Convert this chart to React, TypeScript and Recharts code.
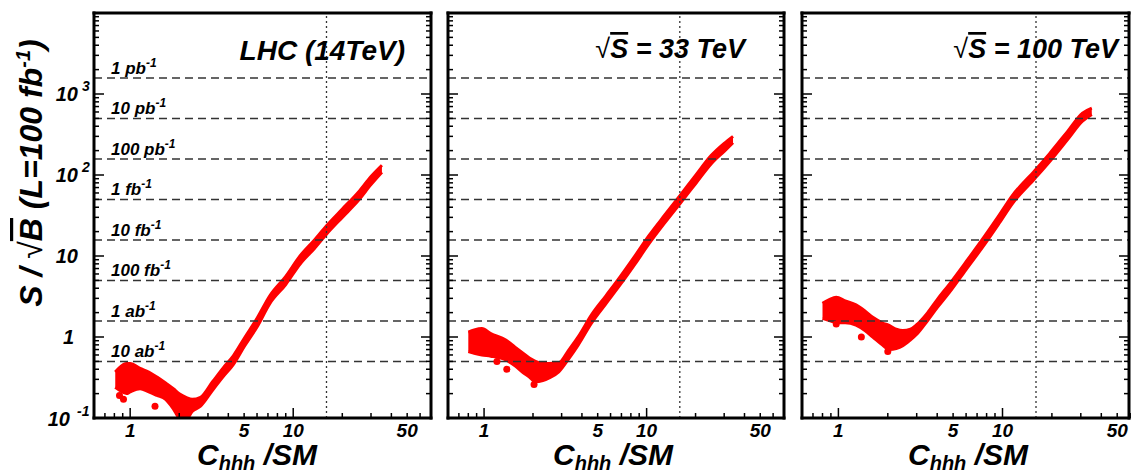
import { ComposedChart, Area, Scatter, XAxis, YAxis, ReferenceLine } from "recharts";

const FONT = "'Liberation Sans', Arial, Helvetica, sans-serif";
const RED = "#ff0000";

// LHC 14 TeV: band of the scan, C_hhh/SM vs S/sqrt(B) at 100 fb^-1
const lhcX = [0.81, 0.86, 0.95, 1.0, 1.15, 1.3, 1.46, 1.65, 1.84, 2.0, 2.2, 2.4, 2.7, 3.2, 3.7, 4.3, 5.0, 6.0, 7.2, 9.0, 11, 13.5, 16, 20, 25, 30, 35];
const lhcLo = [0.24, 0.22, 0.2, 0.21, 0.23, 0.21, 0.19, 0.17, 0.13, 0.1, 0.095, 0.12, 0.14, 0.22, 0.32, 0.46, 0.76, 1.33, 2.6, 4.45, 7.9, 12.4, 18.6, 30, 48, 76, 108];
const lhcHi = [0.37, 0.42, 0.47, 0.47, 0.41, 0.37, 0.32, 0.27, 0.23, 0.2, 0.18, 0.17, 0.18, 0.28, 0.41, 0.59, 0.96, 1.7, 3.25, 5.6, 10, 15.8, 23.6, 38, 61, 96, 132];
const lhcDotX = [0.86, 0.91, 1.42, 2.03];
const lhcDotY = [0.19, 0.17, 0.14, 0.09];

// 33 TeV
const s33X = [0.8, 0.87, 0.97, 1.1, 1.36, 1.55, 1.72, 1.9, 2.07, 2.3, 2.5, 2.88, 3.3, 3.8, 4.6, 5.6, 6.9, 8.5, 10.3, 13, 16.2, 20, 25, 30, 34];
const s33Lo = [0.66, 0.63, 0.6, 0.58, 0.52, 0.44, 0.37, 0.32, 0.28, 0.29, 0.31, 0.37, 0.53, 0.8, 1.5, 2.55, 4.45, 8.0, 14, 26, 45.5, 78, 138, 196, 250];
const s33Hi = [1.15, 1.22, 1.27, 1.1, 0.92, 0.75, 0.64, 0.55, 0.5, 0.47, 0.47, 0.48, 0.68, 1.01, 1.9, 3.2, 5.6, 10.1, 17.7, 32.5, 57, 99, 175, 246, 300];
const s33DotX = [0.93, 1.2, 1.38, 2.03];
const s33DotY = [0.66, 0.5, 0.4, 0.26];

// 100 TeV
const s100X = [0.8, 0.88, 0.97, 1.1, 1.28, 1.45, 1.62, 1.85, 2.05, 2.25, 2.47, 2.75, 3.0, 3.5, 4.0, 4.75, 6.0, 7.8, 9.5, 11.5, 15.7, 19.4, 25, 30.7, 35];
const s100Lo = [1.7, 1.6, 1.5, 1.5, 1.4, 1.2, 1.0, 0.8, 0.7, 0.72, 0.78, 0.92, 1.08, 1.6, 2.3, 3.55, 6.8, 14, 25, 44.5, 90, 147, 276, 462, 560];
const s100Hi = [2.6, 2.9, 3.1, 2.8, 2.5, 2.1, 1.75, 1.5, 1.38, 1.25, 1.2, 1.25, 1.42, 2.0, 2.9, 4.5, 8.5, 17.7, 31.5, 56, 113, 185, 348, 580, 670];
const s100DotX = [0.97, 1.38, 2.0];
const s100DotY = [1.45, 1.0, 0.66];

// 5 sigma discovery with the given luminosity
const lumiValues = [1581, 500, 158, 50, 15.8, 5, 1.58, 0.5];
const lumiLabels = ["1 pb", "10 pb", "100 pb", "1 fb", "10 fb", "100 fb", "1 ab", "10 ab"];
const cutX = 16;

const xTicks = [0.7, 0.8, 0.9, 1, 2, 3, 4, 5, 6, 7, 8, 9, 10, 20, 30, 40, 50, 60];
const xMajor = [1, 10];
const xLabels = [1, 5, 10, 50];

const yTicks = [
  0.1, 0.2, 0.3, 0.4, 0.5, 0.6, 0.7, 0.8, 0.9,
  1, 2, 3, 4, 5, 6, 7, 8, 9,
  10, 20, 30, 40, 50, 60, 70, 80, 90,
  100, 200, 300, 400, 500, 600, 700, 800, 900,
  1000, 2000, 3000, 4000, 5000, 6000, 7000, 8000, 9000, 10000,
];
const yMajor = [0.1, 1, 10, 100, 1000, 10000];
const yLabelBase = ["10", "1", "10", "10", "10"];
const yLabelExp = ["-1", "", "", "2", "3"];
const yLabelAt = [0.1, 1, 10, 100, 1000];

const txt = { fontFamily: FONT, fontWeight: 700, fontStyle: "italic" as const, fill: "#000" };
const frame = { stroke: "#000", strokeWidth: 3, strokeLinecap: "square" as const };

const BottomTick = (p: any) => {
  const v = p.payload.value;
  const len = xMajor.includes(v) ? 10 : 5;
  return (
    <g>
      <line x1={p.x} x2={p.x} y1={p.y} y2={p.y - len} stroke="#000" strokeWidth={1.5} />
      {xLabels.includes(v) && (
        <text x={p.x} y={p.y + 19} textAnchor="middle" fontSize={19} {...txt}>
          {v}
        </text>
      )}
    </g>
  );
};

const TopTick = (p: any) => {
  const len = xMajor.includes(p.payload.value) ? 10 : 5;
  return <line x1={p.x} x2={p.x} y1={p.y} y2={p.y + len} stroke="#000" strokeWidth={1.5} />;
};

const makeLeftTick = (withLabels: boolean) => (p: any) => {
  const v = p.payload.value;
  const len = yMajor.includes(v) ? 10 : 5;
  const i = yLabelAt.indexOf(v);
  const endX = v === 1 ? p.x - 20 : v === 0.1 ? p.x - 24 : p.x - 16;
  const base = v === 0.1 ? p.y + 8 : p.y + 7;
  return (
    <g>
      <line x1={p.x} x2={p.x + len} y1={p.y} y2={p.y} stroke="#000" strokeWidth={1.5} />
      {withLabels && i >= 0 && (
        <g>
          <text x={endX} y={base} textAnchor="end" fontSize={20} {...txt}>
            {yLabelBase[i]}
          </text>
          {yLabelExp[i] && (
            <text x={endX + (v === 0.1 ? 7 : 4)} y={base - 10} fontSize={14} {...txt}>
              {yLabelExp[i]}
            </text>
          )}
        </g>
      )}
    </g>
  );
};

const RightTick = (p: any) => {
  const len = yMajor.includes(p.payload.value) ? 10 : 5;
  return <line x1={p.x} x2={p.x - len} y1={p.y} y2={p.y} stroke="#000" strokeWidth={1.5} />;
};

const LumiLabel = (p: any) => {
  const vb = p.viewBox || {};
  return (
    <text x={vb.x + 17} y={vb.y - 4} fontSize={17} {...txt}>
      {p.text}
      <tspan dy={-7} fontSize={12}>-1</tspan>
    </text>
  );
};

const Dot = (p: any) => <circle cx={p.cx} cy={p.cy} r={3.5} fill={RED} />;

type PanelProps = {
  left: number;
  width: number;
  mLeft: number;
  mRight: number;
  xMax: number;
  xs: number[];
  lo: number[];
  hi: number[];
  dotX: number[];
  dotY: number[];
  first?: boolean;
};

// axes are 1px thick so recharts still draws them; margins are reduced by 1 to compensate
function Panel({ left, width, mLeft, mRight, xMax, xs, lo, hi, dotX, dotY, first }: PanelProps) {
  const rows = xs.map((x, i) => ({ x, band: [lo[i], hi[i]] }));
  const dots = dotX.map((x, i) => ({ x, y: dotY[i] }));
  return (
    <div style={{ position: "absolute", left, top: 0 }}>
      <ComposedChart width={width} height={471} data={rows} margin={{ top: 12, right: mRight - 1, bottom: 52, left: mLeft - 1 }}>
        <XAxis xAxisId="b" dataKey="x" type="number" scale="log" domain={[0.6, xMax]} allowDataOverflow
          ticks={xTicks} interval={0} tickSize={0} tickMargin={0} height={1} tickLine={false} axisLine={frame} tick={BottomTick} />
        <XAxis xAxisId="t" orientation="top" type="number" scale="log" domain={[0.6, xMax]} allowDataOverflow
          ticks={xTicks} interval={0} tickSize={0} tickMargin={0} height={1} tickLine={false} axisLine={frame} tick={TopTick} />
        <YAxis yAxisId="l" type="number" scale="log" domain={[0.1, 10000]} allowDataOverflow
          ticks={yTicks} interval={0} tickSize={0} tickMargin={0} width={1} tickLine={false} axisLine={frame} tick={makeLeftTick(!!first)} />
        <YAxis yAxisId="r" orientation="right" type="number" scale="log" domain={[0.1, 10000]} allowDataOverflow
          ticks={yTicks} interval={0} tickSize={0} tickMargin={0} width={1} tickLine={false} axisLine={frame} tick={RightTick} />
        {lumiValues.map((v, i) => (
          <ReferenceLine key={v} xAxisId="b" yAxisId="l" y={v} stroke="#333" strokeWidth={1.5} strokeDasharray="8 5"
            label={first ? <LumiLabel text={lumiLabels[i]} /> : undefined} />
        ))}
        <ReferenceLine xAxisId="b" yAxisId="l" x={cutX} stroke="#333" strokeWidth={1.3} strokeDasharray="2 3" />
        <Area xAxisId="b" yAxisId="l" dataKey="band" type="monotone" stroke={RED} strokeWidth={3}
          strokeLinejoin="round" fill={RED} fillOpacity={1} dot={false} activeDot={false} isAnimationActive={false} />
        <Scatter xAxisId="b" yAxisId="l" data={dots} dataKey="y" shape={Dot} isAnimationActive={false} />
      </ComposedChart>
    </div>
  );
}

const XTitle = ({ x }: { x: number }) => (
  <text x={x} y={465} fontSize={30} {...txt}>
    C<tspan dy={5} fontSize={20}>hhh</tspan>
    <tspan dy={-5}> /SM</tspan>
  </text>
);

export default function App() {
  return (
    <div style={{ position: "absolute", left: 0, top: 0, width: 1131, height: 471, overflow: "hidden", background: "#fff" }}>
      <Panel left={0} width={440} mLeft={94} mRight={9} xMax={70} xs={lhcX} lo={lhcLo} hi={lhcHi} dotX={lhcDotX} dotY={lhcDotY} first />
      <Panel left={440} width={350} mLeft={8} mRight={6} xMax={70} xs={s33X} lo={s33Lo} hi={s33Hi} dotX={s33DotX} dotY={s33DotY} />
      <Panel left={790} width={341} mLeft={12} mRight={2} xMax={59} xs={s100X} lo={s100Lo} hi={s100Hi} dotX={s100DotX} dotY={s100DotY} />
      <svg width={1131} height={471} style={{ position: "absolute", left: 0, top: 0, pointerEvents: "none" }}>
        <text transform="translate(42,173) rotate(-90)" textAnchor="middle" fontSize={32} {...txt}>
          S / <tspan fontWeight={400} fontStyle="normal">√</tspan>
          <tspan style={{ textDecoration: "overline" }}>B</tspan> (L=100 fb
          <tspan dy={-12} fontSize={20}>-1</tspan>
          <tspan dy={12}>)</tspan>
        </text>
        <text x={405} y={60} textAnchor="end" fontSize={28} {...txt}>LHC (14TeV)</text>
        <text x={745} y={58} textAnchor="end" fontSize={27} {...txt}>
          <tspan fontWeight={400} fontStyle="normal">√</tspan>
          <tspan style={{ textDecoration: "overline" }}>S</tspan> = 33 TeV
        </text>
        <text x={1118} y={58} textAnchor="end" fontSize={27} {...txt}>
          <tspan fontWeight={400} fontStyle="normal">√</tspan>
          <tspan style={{ textDecoration: "overline" }}>S</tspan> = 100 TeV
        </text>
        <XTitle x={197} />
        <XTitle x={553} />
        <XTitle x={908} />
      </svg>
    </div>
  );
}
